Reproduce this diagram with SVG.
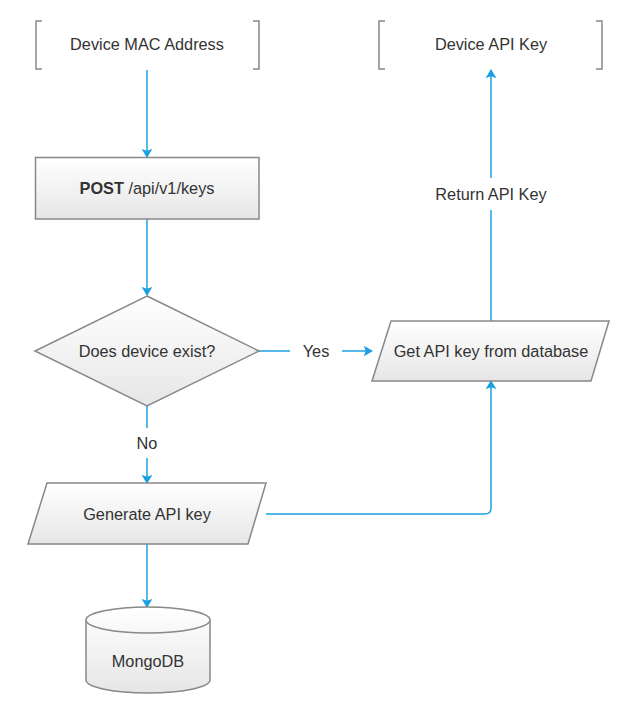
<svg xmlns="http://www.w3.org/2000/svg" width="642" height="717" viewBox="0 0 642 717">
<style>
.lbl{font-family:"Liberation Sans",Arial,sans-serif;font-size:16.3px;fill:#333333;text-anchor:middle;dominant-baseline:central}
.shape{fill:url(#g);stroke:#888888;stroke-width:1.5}
.br{fill:none;stroke:#888888;stroke-width:1.5}
.edge{fill:none;stroke:#1ba1e2;stroke-width:1.5}
</style>
<defs>
<linearGradient id="g" x1="0" y1="0" x2="0" y2="1">
<stop offset="0" stop-color="#ffffff"/>
<stop offset="1" stop-color="#e6e6e6"/>
</linearGradient>
<marker id="arrB" viewBox="0 0 10 12" refX="9" refY="6" markerWidth="9" markerHeight="13" markerUnits="userSpaceOnUse" orient="auto">
<path d="M0,0 L10,6 L0,12 L2,6 Z" fill="#1ba1e2"/>
</marker>
</defs>
<rect width="642" height="717" fill="#ffffff"/>
<g id="edges">
<line class="edge" x1="147" y1="70" x2="147" y2="157" marker-end="url(#arrB)"/>
<line class="edge" x1="147" y1="219" x2="147" y2="295" marker-end="url(#arrB)"/>
<line class="edge" x1="259" y1="351" x2="290" y2="351"/>
<line class="edge" x1="342" y1="351" x2="372" y2="351" marker-end="url(#arrB)"/>
<line class="edge" x1="147" y1="406" x2="147" y2="428"/>
<line class="edge" x1="147" y1="458" x2="147" y2="483" marker-end="url(#arrB)"/>
<line class="edge" x1="147" y1="544" x2="147" y2="607" marker-end="url(#arrB)"/>
<path class="edge" d="M266,514 H485 Q491,514 491,508 V381" marker-end="url(#arrB)"/>
<line class="edge" x1="491" y1="321" x2="491" y2="210"/>
<line class="edge" x1="491" y1="178" x2="491" y2="70" marker-end="url(#arrB)"/>
<text class="lbl" x="316" y="351">Yes</text>
<text class="lbl" x="147" y="443">No</text>
<text class="lbl" x="491" y="194">Return API Key</text>
</g>
<g id="mac">
<path class="br" d="M42,21 H36 V69 H42 M253,21 H259 V69 H253"/>
<text class="lbl" x="147" y="44">Device MAC Address</text>
</g>
<g id="post">
<rect class="shape" x="35.5" y="157.5" width="223.5" height="61.5"/>
<text class="lbl" x="147" y="188"><tspan font-weight="bold">POST</tspan> /api/v1/keys</text>
</g>
<g id="exists">
<polygon class="shape" points="147,296 259,351 147,406 35,351"/>
<text class="lbl" x="147" y="351">Does device exist?</text>
</g>
<g id="getkey">
<polygon class="shape" points="391,321 609,321 591,381 372,381"/>
<text class="lbl" x="491" y="351">Get API key from database</text>
</g>
<g id="generate">
<polygon class="shape" points="47,483 266,483 248,544 28,544"/>
<text class="lbl" x="147" y="514">Generate API key</text>
</g>
<g id="mongo">
<path class="shape" d="M86,620 A62,13 0 0 1 210,620 V680 A62,13 0 0 1 86,680 Z"/>
<path class="br" d="M86,620 A62,13 0 0 0 210,620"/>
<text class="lbl" x="148" y="661">MongoDB</text>
</g>
<g id="apikey">
<path class="br" d="M385,21 H379 V69 H385 M596,21 H602 V69 H596"/>
<text class="lbl" x="491" y="44">Device API Key</text>
</g>
</svg>
